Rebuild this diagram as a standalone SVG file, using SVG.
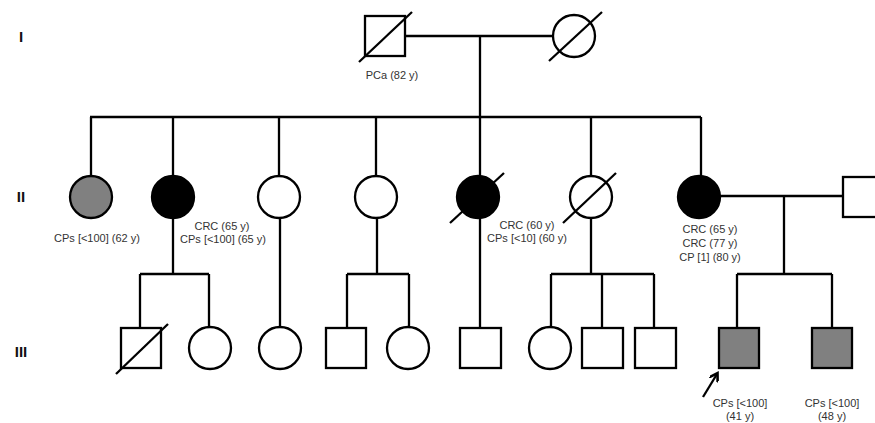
<svg xmlns="http://www.w3.org/2000/svg" width="875" height="423" viewBox="0 0 875 423">
<defs>
<style>
.s{fill:#fff;stroke:#000;stroke-width:2.3}
.g{fill:#808080}
.b{fill:#000}
.l{fill:none;stroke:#000;stroke-width:2.3}
.t{font-family:"Liberation Sans",Arial,sans-serif;font-size:11px;fill:#333;text-anchor:middle}
.gen{font-family:"Liberation Sans",Arial,sans-serif;font-size:15px;font-weight:bold;fill:#111;text-anchor:middle}
</style>
<marker id="ah" markerWidth="10" markerHeight="10" refX="7" refY="5" orient="auto" markerUnits="userSpaceOnUse">
<path d="M0,0 L8,5 L0,10" fill="none" stroke="#000" stroke-width="2.6"/>
</marker>
</defs>
<rect width="875" height="423" fill="#fff"/>
<g id="gen-labels">
<text class="gen" x="21" y="42">I</text>
<text class="gen" x="21" y="202">II</text>
<text class="gen" x="21" y="357">III</text>
</g>
<g id="connectors">
<path class="l" d="M405,36 H553 M480,36 V117 M90,117 H701"/>
<path class="l" d="M91,117 V176 M173,117 V176 M279,117 V176 M376,117 V176 M480,117 V176 M591,117 V176 M701,117 V176"/>
<path class="l" d="M720,196 H843 M784,196 V274 M737,274 H832 M737,274 V328 M832,274 V328"/>
<path class="l" d="M173,218 V274 M140,274 H209 M140,274 V328 M209,274 V327"/>
<path class="l" d="M280,218 V327"/>
<path class="l" d="M377,218 V274 M347,274 H409 M347,274 V328 M409,274 V327"/>
<path class="l" d="M480,218 V328"/>
<path class="l" d="M591,218 V274 M551,274 H654 M551,274 V327 M602,274 V328 M654,274 V328"/>
<path class="l" d="M703,397 L717,374" stroke-width="3" marker-end="url(#ah)"/>
</g>
<g id="I-1"><rect class="s" x="365" y="16" width="40" height="40"/><path class="l" d="M359,62 L412,12"/><text class="t" x="392" y="79">PCa (82 y)</text></g>
<g id="I-2"><circle class="s" cx="574" cy="36" r="21"/><path class="l" d="M549,61 L602,12"/></g>
<g id="II-1"><circle class="s g" cx="91" cy="197" r="21"/><text class="t" x="97" y="242">CPs [&lt;100] (62 y)</text></g>
<g id="II-2"><circle class="s b" cx="173" cy="197" r="21"/><text class="t" x="222" y="230">CRC (65 y)</text><text class="t" x="223" y="243">CPs [&lt;100] (65 y)</text></g>
<g id="II-3"><circle class="s" cx="279" cy="197" r="21"/></g>
<g id="II-4"><circle class="s" cx="376" cy="197" r="21"/></g>
<g id="II-5"><circle class="s b" cx="478" cy="197" r="21"/><path class="l" d="M450,223 L504,173"/><text class="t" x="527" y="229">CRC (60 y)</text><text class="t" x="527" y="242">CPs [&lt;10] (60 y)</text></g>
<g id="II-6"><circle class="s" cx="591" cy="197" r="21"/><path class="l" d="M563,223 L616,173"/></g>
<g id="II-7"><circle class="s b" cx="699" cy="197" r="21"/><text class="t" x="710" y="233">CRC (65 y)</text><text class="t" x="710" y="247">CRC (77 y)</text><text class="t" x="710" y="261">CP [1] (80 y)</text></g>
<g id="II-8"><rect class="s" x="843" y="177" width="40" height="40"/></g>
<g id="III-1"><rect class="s" x="121" y="328" width="40" height="40"/><path class="l" d="M116,374 L168,324"/></g>
<g id="III-2"><circle class="s" cx="210" cy="348" r="21"/></g>
<g id="III-3"><circle class="s" cx="280" cy="348" r="21"/></g>
<g id="III-4"><rect class="s" x="326" y="328" width="40" height="40"/></g>
<g id="III-5"><circle class="s" cx="408" cy="348" r="21"/></g>
<g id="III-6"><rect class="s" x="460" y="328" width="41" height="40"/></g>
<g id="III-7"><circle class="s" cx="550" cy="348" r="21"/></g>
<g id="III-8"><rect class="s" x="582" y="328" width="41" height="40"/></g>
<g id="III-9"><rect class="s" x="635" y="328" width="41" height="40"/></g>
<g id="III-10"><rect class="s g" x="719" y="328" width="40" height="40"/><text class="t" x="740" y="407">CPs [&lt;100]</text><text class="t" x="740" y="420">(41 y)</text></g>
<g id="III-11"><rect class="s g" x="812" y="328" width="40" height="40"/><text class="t" x="832" y="407">CPs [&lt;100]</text><text class="t" x="832" y="420">(48 y)</text></g>
</svg>
